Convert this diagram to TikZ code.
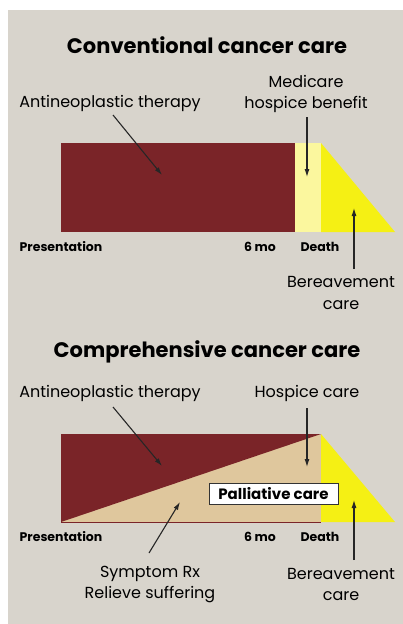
\documentclass[tikz,border=0pt]{standalone}
\usepackage{fontspec}
\setmainfont{Poppins}
\usetikzlibrary{arrows.meta}
\definecolor{bg}{HTML}{D8D4CC}
\definecolor{therapy}{HTML}{7A2428}
\definecolor{hospice}{HTML}{FBF79E}
\definecolor{bereave}{HTML}{F5F014}
\definecolor{palli}{HTML}{DFC79D}
\tikzset{
  title/.style={font=\bfseries\fontsize{21}{24}\selectfont, inner sep=0pt},
  lbl/.style={font=\fontsize{16}{21.5}\selectfont, inner sep=0pt, align=center},
  axis/.style={font=\bfseries\fontsize{12.5}{14}\selectfont, inner sep=0pt},
  arr/.style={-{Latex[length=8pt,width=5pt]}, line width=1.1pt, black!85},
}
\begin{document}
\begin{tikzpicture}[x=1pt,y=-1pt]
\useasboundingbox (0,0) rectangle (403,624);
\fill[bg] (8,10) rectangle (403,624);

% ---------- Conventional ----------
\node[title] (t1) at (207,45) {Conventional cancer care};
\fill[therapy] (61,143) rectangle (295,232);
\fill[hospice] (295,143) rectangle (321,232);
\fill[bereave] (321,143) -- (321,232) -- (395,232) -- cycle;
\node[lbl] (a1) at (110,103) {Antineoplastic therapy};
\node[lbl] (m1) at (306,94) {Medicare\\hospice benefit};
\node[lbl] (b1) at (341,293) {Bereavement\\care};
\node[axis] (p1) at (61,247) {Presentation};
\node[axis] (s1) at (260,247) {6 mo};
\node[axis] (d1) at (320,247) {Death};
\coordinate (a1s) at (113,115);
\coordinate (a1e) at (162,175);
\coordinate (m1s) at (307,117);
\coordinate (m1e) at (307,177);
\coordinate (b1s) at (354,269);
\coordinate (b1e) at (354,208);
\draw[arr] (a1s) -- (a1e);
\draw[arr] (m1s) -- (m1e);
\draw[arr] (b1s) -- (b1e);

% ---------- Comprehensive ----------
\node[title] (t2) at (207,352) {Comprehensive cancer care};
\fill[palli] (61,434) rectangle (321,522);
\fill[therapy] (61,434) -- (321,434) -- (61,522) -- cycle;
\draw[therapy, line width=0.8pt] (61,522) -- (321,522);
\fill[bereave] (321,434) -- (321,522) -- (395,522) -- cycle;
\node[draw=black!80, fill=white, line width=0.9pt, font=\bfseries\fontsize{15}{17}\selectfont,
  minimum width=129pt, minimum height=21pt, inner sep=0pt] (pc) at (273.5,493.5) {Palliative care};
\node[lbl] (a2) at (110,393) {Antineoplastic therapy};
\node[lbl] (h2) at (307,393) {Hospice care};
\node[lbl] (sy) at (150,584.5) {Symptom Rx\\Relieve suffering};
\node[lbl] (b2) at (341,584.5) {Bereavement\\care};
\node[axis] (p2) at (61,537) {Presentation};
\node[axis] (s2) at (260,537) {6 mo};
\node[axis] (d2) at (320,537) {Death};
\coordinate (a2s) at (113,407);
\coordinate (a2e) at (162,466);
\coordinate (h2s) at (307,408);
\coordinate (h2e) at (307,467);
\coordinate (sys) at (149,553);
\coordinate (sye) at (180,502);
\coordinate (b2s) at (354,560);
\coordinate (b2e) at (354,500);
\draw[arr] (a2s) -- (a2e);
\draw[arr] (h2s) -- (h2e);
\draw[arr] (sys) -- (sye);
\draw[arr] (b2s) -- (b2e);
\end{tikzpicture}
\end{document}
